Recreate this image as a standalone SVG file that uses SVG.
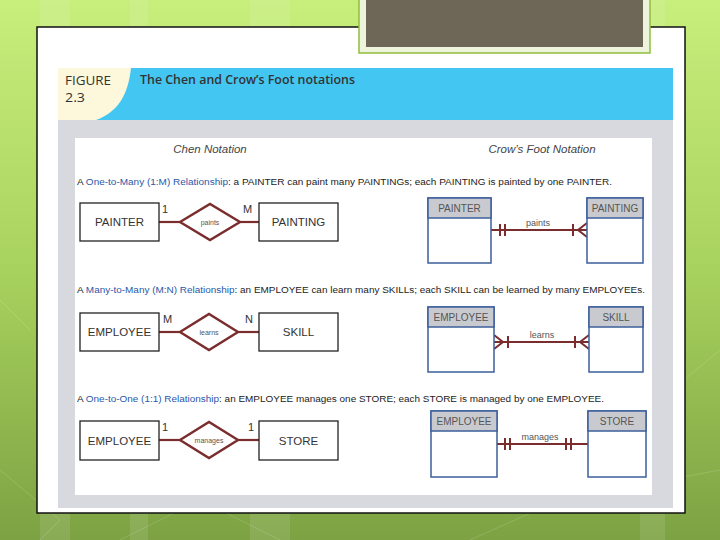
<svg xmlns="http://www.w3.org/2000/svg" width="720" height="540" viewBox="0 0 720 540">
<defs>
<linearGradient id="bg" x1="0" y1="0" x2="0" y2="1">
<stop offset="0" stop-color="#c8ee7c"/>
<stop offset="0.5" stop-color="#a8d25e"/>
<stop offset="1" stop-color="#7ca243"/>
</linearGradient>
<style>
.ent{fill:#fff;stroke:#222;stroke-width:1.3}
.etx{font-family:"Liberation Sans",Arial,sans-serif;font-size:11.5px;fill:#333;text-anchor:middle}
.card{font-family:"Liberation Sans",Arial,sans-serif;font-size:11px;fill:#333}
.dia{fill:#fff;stroke:#7b2d2d;stroke-width:2.4}
.dtx{font-family:"Liberation Sans",Arial,sans-serif;font-size:7px;fill:#555;text-anchor:middle}
.rel{stroke:#7b2d2d;stroke-width:2.2;fill:none}
.tbl{fill:#fff;stroke:#3d5f9c;stroke-width:1.5}
.thd{fill:#c9cacf;stroke:#3d5f9c;stroke-width:1.5}
.ttx{font-family:"Liberation Sans",Arial,sans-serif;font-size:10px;fill:#555;text-anchor:middle}
.cf{stroke:#7b2d2d;stroke-width:2;fill:none}
.cfl{font-family:"Liberation Sans",Arial,sans-serif;font-size:9px;fill:#555;text-anchor:middle}
.desc{font-family:"Liberation Sans",Arial,sans-serif;font-size:8.5px;fill:#222}
.blue{fill:#2a57a8}
.hd{font-family:"Liberation Sans",Arial,sans-serif;font-size:11.5px;font-style:italic;fill:#444;text-anchor:middle}
.fig{font-family:"Open Sans","Liberation Sans",Arial,sans-serif;font-size:13px;fill:#333}
</style>
</defs>
<rect width="720" height="540" fill="url(#bg)"/>
<g opacity="0.1" fill="#ffffff">
<rect x="40" y="0" width="30" height="540"/>
<rect x="130" y="0" width="18" height="540"/>
<rect x="250" y="0" width="40" height="540"/>
<rect x="640" y="0" width="25" height="540"/>
</g>
<g stroke="#ffffff" stroke-opacity="0.15" fill="none" stroke-width="1">
<path d="M0,470 L60,520 L40,540"/>
<path d="M120,540 L200,500 L280,540"/>
<path d="M470,540 L560,500 L720,470"/>
<path d="M660,400 L720,350"/>
<path d="M0,300 L30,330"/>
</g>
<!-- slide -->
<rect x="37" y="27" width="648" height="486" fill="#ffffff" stroke="#111" stroke-width="1.5"/>
<!-- title box -->
<g id="titlebox">
<rect x="359" y="-2" width="291" height="55" fill="#eef4dc" stroke="#8fbf3e" stroke-width="1.5"/>
<rect x="366" y="-2" width="277" height="49" fill="#6e6757"/>
</g>
<!-- figure -->
<g id="figure-header">
<rect x="58" y="68" width="615" height="52" fill="#44c6f2"/>
<path d="M58,68 H131 C128,95 118,112 96,120 H58 Z" fill="#fdf8dc"/>
<text class="fig" x="65" y="85" textLength="46" lengthAdjust="spacingAndGlyphs">FIGURE</text>
<text class="fig" x="65" y="102" textLength="20" lengthAdjust="spacingAndGlyphs">2.3</text>
<text class="fig" x="140" y="84" font-weight="600" textLength="215" lengthAdjust="spacingAndGlyphs">The Chen and Crow’s Foot notations</text>
</g>
<rect x="58" y="120" width="615" height="388" fill="#d8d9df"/>
<rect x="75" y="138" width="577" height="357" fill="#ffffff"/>
<text class="hd" x="210" y="153">Chen Notation</text>
<text class="hd" x="542" y="153">Crow’s Foot Notation</text>
<!-- descriptions -->
<text class="desc" x="77" y="185" textLength="535" lengthAdjust="spacingAndGlyphs">A <tspan class="blue">One-to-Many (1:M) Relationship</tspan>: a PAINTER can paint many PAINTINGs; each PAINTING is painted by one PAINTER.</text>
<text class="desc" x="77" y="293" textLength="568" lengthAdjust="spacingAndGlyphs">A <tspan class="blue">Many-to-Many (M:N) Relationship</tspan>: an EMPLOYEE can learn many SKILLs; each SKILL can be learned by many EMPLOYEEs.</text>
<text class="desc" x="77" y="402" textLength="527" lengthAdjust="spacingAndGlyphs">A <tspan class="blue">One-to-One (1:1) Relationship</tspan>: an EMPLOYEE manages one STORE; each STORE is managed by one EMPLOYEE.</text>

<!-- connectors -->
<g id="connectors">
<line class="rel" x1="159" y1="222" x2="180" y2="222"/>
<line class="rel" x1="240" y1="222" x2="259" y2="222"/>
<line class="rel" x1="159" y1="332" x2="180" y2="332"/>
<line class="rel" x1="238" y1="332" x2="259" y2="332"/>
<line class="rel" x1="159" y1="440" x2="180" y2="440"/>
<line class="rel" x1="238" y1="440" x2="259" y2="440"/>
<!-- crow row 1 -->
<line class="cf" x1="491" y1="230" x2="587" y2="230"/>
<line class="cf" x1="500" y1="224" x2="500" y2="236"/>
<line class="cf" x1="505" y1="224" x2="505" y2="236"/>
<line class="cf" x1="573" y1="224" x2="573" y2="236"/>
<path class="cf" d="M587,223 L578,230 L587,237"/>
<text class="cfl" x="538" y="226">paints</text>
<!-- crow row 2 -->
<line class="cf" x1="494" y1="342" x2="589" y2="342"/>
<path class="cf" d="M494,335 L503,342 L494,349"/>
<line class="cf" x1="508" y1="336" x2="508" y2="348"/>
<line class="cf" x1="575" y1="336" x2="575" y2="348"/>
<path class="cf" d="M589,335 L580,342 L589,349"/>
<text class="cfl" x="542" y="338">learns</text>
<!-- crow row 3 -->
<line class="cf" x1="497" y1="444" x2="588" y2="444"/>
<line class="cf" x1="505" y1="438" x2="505" y2="450"/>
<line class="cf" x1="510" y1="438" x2="510" y2="450"/>
<line class="cf" x1="566" y1="438" x2="566" y2="450"/>
<line class="cf" x1="571" y1="438" x2="571" y2="450"/>
<text class="cfl" x="540" y="440">manages</text>
</g>

<!-- Chen nodes -->
<g id="chen-painter"><rect class="ent" x="80" y="203" width="79" height="38"/><text class="etx" x="119.5" y="226">PAINTER</text></g>
<g id="chen-paints"><polygon class="dia" points="180,222 210,204 240,222 210,240"/><text class="dtx" x="210" y="225">paints</text></g>
<g id="chen-painting"><rect class="ent" x="259" y="203" width="79" height="38"/><text class="etx" x="298.5" y="226">PAINTING</text></g>
<text class="card" x="162" y="213">1</text>
<text class="card" x="243" y="213">M</text>

<g id="chen-employee1"><rect class="ent" x="80" y="313" width="79" height="38"/><text class="etx" x="119.5" y="336">EMPLOYEE</text></g>
<g id="chen-learns"><polygon class="dia" points="180,332 209,314 238,332 209,350"/><text class="dtx" x="209" y="335">learns</text></g>
<g id="chen-skill"><rect class="ent" x="259" y="313" width="79" height="38"/><text class="etx" x="298.5" y="336">SKILL</text></g>
<text class="card" x="163" y="323">M</text>
<text class="card" x="245" y="323">N</text>

<g id="chen-employee2"><rect class="ent" x="80" y="421" width="79" height="39"/><text class="etx" x="119.5" y="445">EMPLOYEE</text></g>
<g id="chen-manages"><polygon class="dia" points="180,440 209,422 238,440 209,458"/><text class="dtx" x="209" y="443">manages</text></g>
<g id="chen-store"><rect class="ent" x="259" y="421" width="79" height="39"/><text class="etx" x="298.5" y="445">STORE</text></g>
<text class="card" x="162" y="431">1</text>
<text class="card" x="248" y="431">1</text>

<!-- Crow's foot nodes -->
<g id="cf-painter"><rect class="tbl" x="428" y="198" width="63" height="65"/><rect class="thd" x="428" y="198" width="63" height="20"/><text class="ttx" x="459.5" y="212">PAINTER</text></g>
<g id="cf-painting"><rect class="tbl" x="587" y="198" width="56" height="65"/><rect class="thd" x="587" y="198" width="56" height="20"/><text class="ttx" x="615" y="212">PAINTING</text></g>

<g id="cf-employee1"><rect class="tbl" x="428" y="307" width="66" height="65"/><rect class="thd" x="428" y="307" width="66" height="20"/><text class="ttx" x="461" y="321">EMPLOYEE</text></g>
<g id="cf-skill"><rect class="tbl" x="589" y="307" width="54" height="65"/><rect class="thd" x="589" y="307" width="54" height="20"/><text class="ttx" x="616" y="321">SKILL</text></g>

<g id="cf-employee2"><rect class="tbl" x="431" y="411" width="66" height="66"/><rect class="thd" x="431" y="411" width="66" height="20"/><text class="ttx" x="464" y="425">EMPLOYEE</text></g>
<g id="cf-store"><rect class="tbl" x="588" y="411" width="58" height="66"/><rect class="thd" x="588" y="411" width="58" height="20"/><text class="ttx" x="617" y="425">STORE</text></g>
</svg>
